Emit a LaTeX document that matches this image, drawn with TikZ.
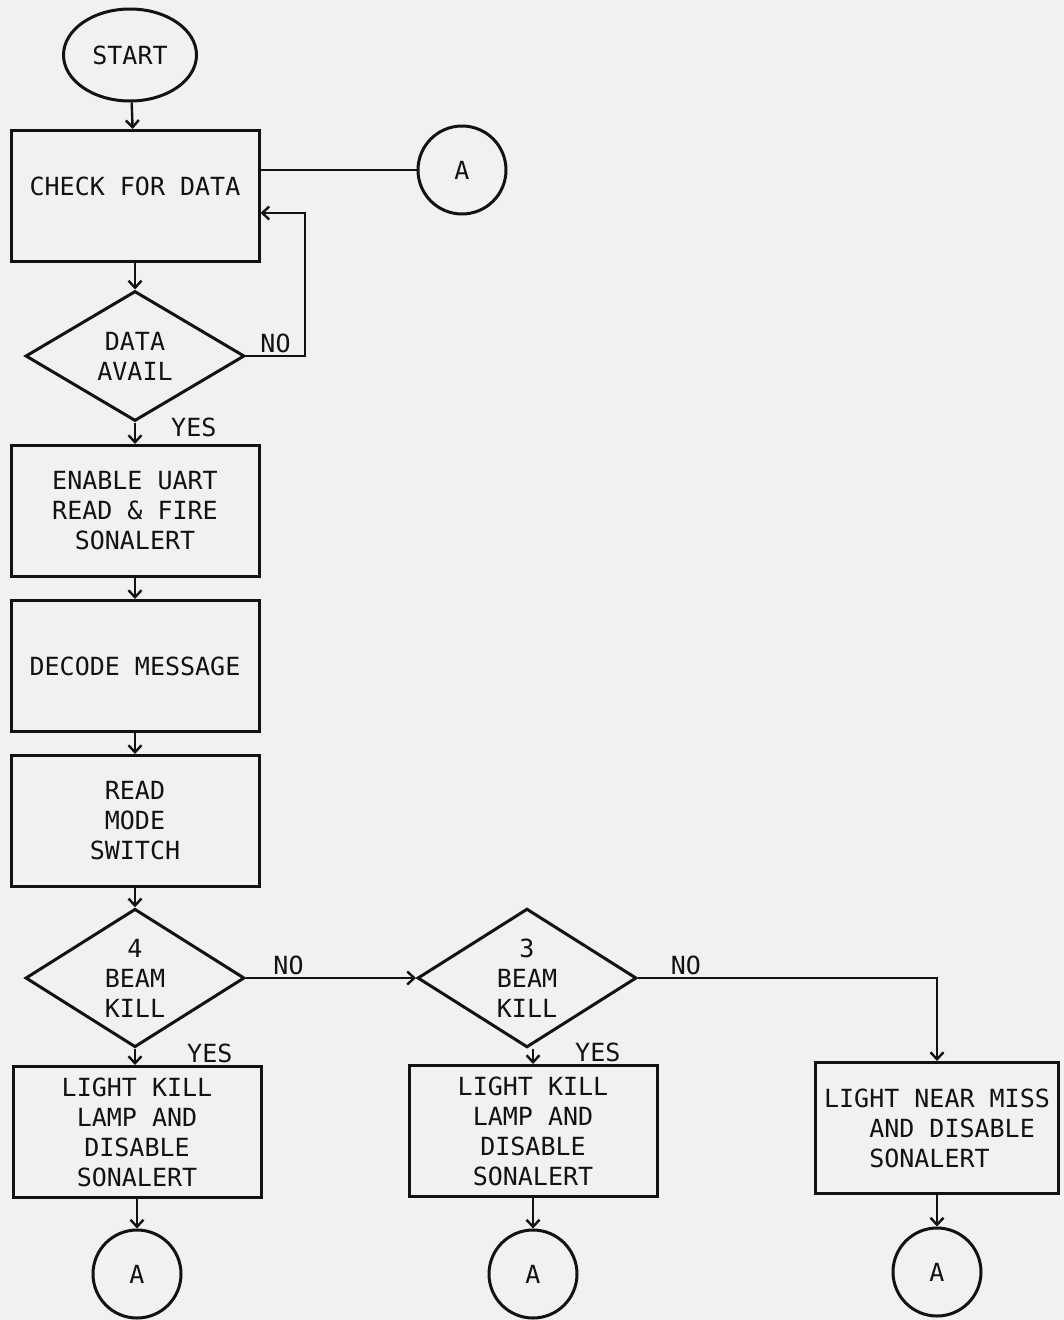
\documentclass[tikz,border=0pt]{standalone}
\usepackage{fontspec}
\usepackage{tikz}
\usetikzlibrary{shapes.geometric, arrows.meta, positioning, calc}
\newfontfamily\chartfont{DejaVu Sans Mono}
\definecolor{paper}{RGB}{241, 241, 239}
\definecolor{ink}{RGB}{18, 18, 18}
\tikzset{
  chartfont/.style={font=\chartfont\fontsize{25}{30}\selectfont, text=ink},
  arr/.style={-{Straight Barb[length=7pt, width=13pt]}, line width=2.4pt, draw=ink},
  link/.style={line width=2.4pt, draw=ink},
}

\begin{document}
\begin{tikzpicture}[
  x=1pt, y=-1pt,
  procbox/.style={
    rectangle, draw=ink, line width=3pt,
    minimum width=248pt, minimum height=131pt,
    align=center, chartfont},
  decision/.style={
    diamond, draw=ink, line width=3pt, inner sep=0pt,
    minimum width=219pt, minimum height=130pt,
    align=center, chartfont},
  terminal/.style={
    ellipse, draw=ink, line width=3pt,
    minimum width=133pt, minimum height=92pt, chartfont},
  offpage/.style={
    circle, draw=ink, line width=3pt,
    minimum size=88pt, chartfont},
  lbl/.style={chartfont, inner sep=2pt}
]

% ── Page ──────────────────────────────────────────────────
\fill[paper] (0,0) rectangle (1064,1320);
\useasboundingbox (0,0) rectangle (1064,1320);

% ── Left Spine ────────────────────────────────────────────
\node[terminal] (start)  at (130, 55)   {START};
\node[procbox, text depth=20pt] (check) at (135, 196) {CHECK FOR DATA};
\node[offpage]  (conA1)  at (462, 170)  {A};
\node[decision] (avail)  at (135, 356)  {DATA\\AVAIL};
\node[procbox]  (enable) at (135, 511)  {ENABLE UART\\READ \& FIRE\\SONALERT};
\node[procbox]  (decode) at (135, 666)  {DECODE MESSAGE};
\node[procbox]  (mode)   at (135, 821)  {READ\\MODE\\SWITCH};
\node[decision] (beam4)  at (135, 978)  {4\\BEAM\\KILL};
\node[procbox]  (kill4)  at (137, 1132) {LIGHT KILL\\LAMP AND\\DISABLE\\SONALERT};
\node[offpage]  (conA2)  at (137, 1274) {A};

% ── Middle Branch ─────────────────────────────────────────
\node[decision] (beam3)  at (527, 978)  {3\\BEAM\\KILL};
\node[procbox]  (kill3)  at (533, 1131) {LIGHT KILL\\LAMP AND\\DISABLE\\SONALERT};
\node[offpage]  (conA3)  at (533, 1274) {A};

% ── Right Branch ──────────────────────────────────────────
\node[procbox, minimum width=243pt, align=left] (miss) at (937, 1128)
  {LIGHT NEAR MISS\\\hphantom{LIG}AND DISABLE\\\hphantom{LIG}SONALERT};
\node[offpage]  (conA4)  at (937, 1272) {A};

% ── Arrows: Spine ─────────────────────────────────────────
\draw[arr]  (start)  -- (check);
\draw[link] (check.east |- conA1) -- (conA1.west);
\draw[arr]  (check)  -- (avail);
\draw[arr]  (avail.east) -- node[lbl, above] {NO} ++(59,0)
            |- ([yshift=-17pt]check.east);
\draw[arr]  (avail)  -- (enable);
\node[lbl, anchor=west] at ([xshift=34pt, yshift=-5pt]avail.south) {YES};
\draw[arr]  (enable) -- (decode);
\draw[arr]  (decode) -- (mode);
\draw[arr]  (mode)   -- (beam4);

% ── Arrows: Kill Tests ────────────────────────────────────
\draw[arr]  (beam4.east) -- node[lbl, above, near start] {NO} (beam3.west);
\draw[arr]  (beam4.south) -- (beam4.south |- kill4.north);
\node[lbl, anchor=west] at ([xshift=50pt, yshift=-5pt]beam4.south) {YES};
\draw[arr]  (beam3.east) -| node[lbl, above, pos=0.08] {NO} (miss.north);
\draw[arr]  (beam3.south -| kill3) -- (kill3.north);
\node[lbl, anchor=west] at ([xshift=46pt, yshift=-4pt]beam3.south) {YES};

% ── Arrows: To Connectors ─────────────────────────────────
\draw[arr]  (kill4) -- (conA2);
\draw[arr]  (kill3) -- (conA3);
\draw[arr]  (miss)  -- (conA4);

\end{tikzpicture}
\end{document}
